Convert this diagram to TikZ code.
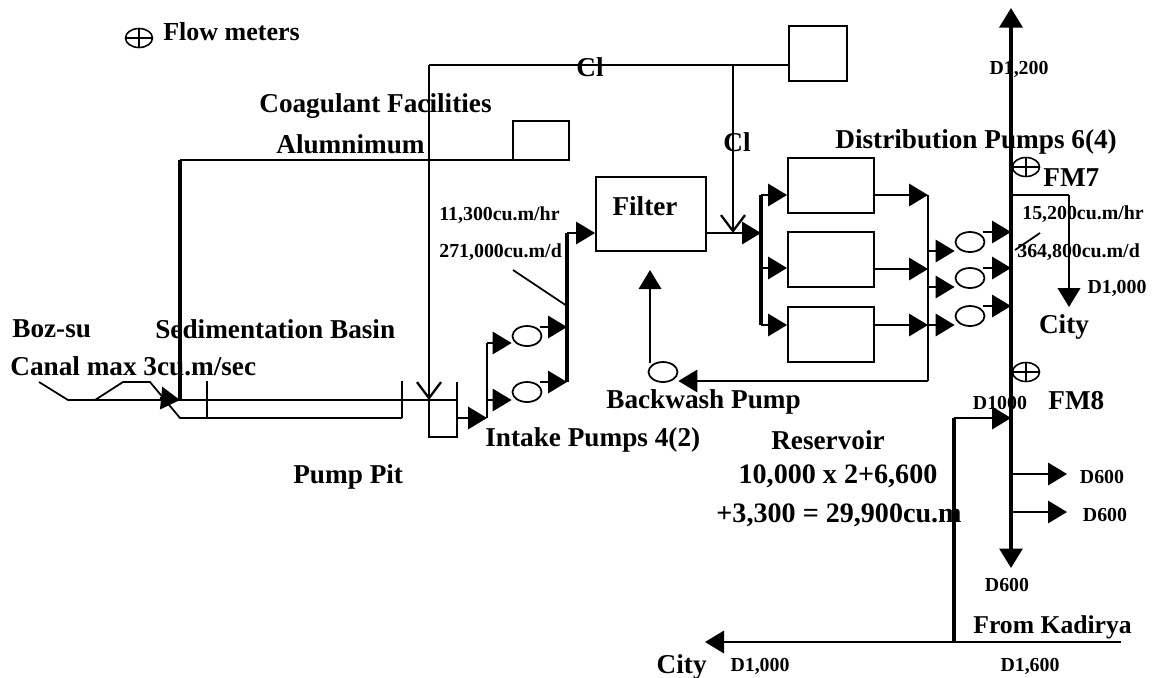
\documentclass[tikz,border=0pt]{standalone}
\usepackage{fontspec}
\setmainfont{Liberation Serif}
\usetikzlibrary{arrows.meta,calc,positioning,shapes.geometric}
\tikzset{
  pipe/.style={line width=1pt},
  main/.style={line width=1.9pt},
  flow/.style={pipe,-{Triangle[length=3.8mm,width=4.5mm]}},
  mainflow/.style={main,-{Triangle[length=3.9mm,width=4.6mm]}},
  dose/.style={line width=1.3pt,-{Straight Barb[length=3.2mm,width=4.8mm]}},
  basin/.style={draw,line width=1.1pt,inner sep=0pt,minimum width=1.72cm,minimum height=1.10cm},
  pumpo/.style={draw,ellipse,line width=1pt,inner sep=0pt,minimum width=.58cm,minimum height=.4cm},
  meter/.style={draw,ellipse,line width=.9pt,inner sep=0pt,minimum width=.54cm,minimum height=.38cm,
    path picture={\draw[line width=.9pt] (path picture bounding box.north)--(path picture bounding box.south)
      (path picture bounding box.west)--(path picture bounding box.east);}},
  big/.style={font=\fontsize{15.5}{18}\selectfont\bfseries,inner sep=0pt},
  small/.style={font=\fontsize{11.3}{14}\selectfont\bfseries,inner sep=0pt}
}
\begin{document}
\begin{tikzpicture}[x=.02cm,y=-.02cm]
\useasboundingbox (0,0) rectangle (1153,677);
% boxes
\node[basin,minimum width=1.16cm] (clbox) at (818,53.5){};
\node[basin,minimum width=1.12cm,minimum height=.78cm] (albox) at (541,140.5){};
\node[basin,minimum width=2.2cm,minimum height=1.48cm] (filter) at (651,214){};
\foreach \nm/\y in {tanka/185.5,tankb/259.5,tankc/334.5}{\node[basin] (\nm) at (831,\y){};}
% pumps and meters
\foreach \nm/\x/\y in {ipa/527/336,ipb/527/392,bwp/663/372,dpa/970/242,dpb/970/278,dpc/970/316}{\node[pumpo] (\nm) at (\x,\y){};}
\foreach \nm/\x/\y in {fmkey/139/38,fmseven/1026/167,fmeight/1026/372}{\node[meter] (\nm) at (\x,\y){};}
% junctions
\foreach \nm/\x/\y in {riva/39/382,rivb/68/400,humpa/95/400,humpb/123/382,humpc/150/382,sedin/180/400,sedlow/180/418,
  sedl/207/418,sedlt/207/381,sedr/402/418,sedrt/402/381,pita/429/400,pitb/429/437,pitc/457/437,pitd/457/382,
  pito/457/418,ihdr/487/418,ihdra/487/343,ihdrb/487/400,ohdr/567/233,ohdrb/567/382,iouta/540/327,ioutb/540/382,
  tick/513/270,tickb/567/306,alum/180/160,clt/429/65,clu/733/65,clv/733/233,fhdr/761/233,fhdra/761/195,fhdrb/761/268,fhdrc/761/325,
  rhdr/928/195,rhdrb/928/269,rhdrc/928/325,rhdrd/928/381,pina/928/251,pinb/928/287,douta/983/232,doutb/983/268,doutc/983/306,
  mtop/1011/8,mbot/1011/568,bwtip/650/270,bwfoot/650/363,brna/1011/195,brnb/1069/195,brnc/1069/307,
  ticka/1015/250,tickc/1040/233,kadin/954/418,kadbot/954/642,kadr/1121/642,kadl/705/642,mfeed/1011/418,
  sixa/1011/474,sixb/1011/512,sixatip/1067/474,sixbtip/1067/512,wra/160/398}{\coordinate (\nm) at (\x,\y);}
% canal and basin
\draw[pipe] (riva)--(rivb)--(pita)--(pita-|pitd);
\draw[pipe] (humpa)--(humpb)--(humpc)--(sedlow)--(sedr);
\draw[line width=1.4pt] (sedlt)--(sedl) (sedrt)--(sedr);
\draw[line width=1.2pt] (pitd)--(pitc)--(pitb)--(pita);
\draw[flow] (wra)--(sedin);
\draw[main] (alum)--(sedin);
\draw[pipe] (albox.west|-alum)--(alum);
\draw[pipe] (clu)--(clt);
\draw[dose] (clt)--(pita);
\draw[pipe] (clbox.west|-clt)--(clu);
\draw[dose] (clu)--(clv);
% intake side
\draw[flow] (pito)--(ihdr);
\draw[pipe] (ihdr)--(ihdra);
\draw[flow] (ihdra)--(ihdra-|ipa.west);
\draw[flow] (ihdrb)--(ihdrb-|ipb.west);
\draw[flow] (iouta)--(iouta-|ohdr);
\draw[flow] (ioutb)--(ohdrb);
\draw[main] (ohdrb)--(ohdr);
\draw[flow] (ohdr)--(ohdr-|filter.west);
\draw[pipe] (tick)--(tickb);
% filter to distribution
\draw[flow] (filter.east|-fhdr)--(fhdr);
\draw[main] (fhdra)--(fhdrc);
\foreach \src/\tk in {fhdra/tanka,fhdrb/tankb,fhdrc/tankc}{\draw[flow] (\src)--(\src-|\tk.west);}
\foreach \src/\tk in {rhdr/tanka,rhdrb/tankb,rhdrc/tankc}{\draw[flow] (\src-|\tk.east)--(\src);}
\draw[line width=1.2pt] (rhdr)--(rhdrd);
\draw[flow] (rhdrd)--(rhdrd-|bwp.east);
\draw[flow] (bwfoot)--(bwtip);
\foreach \src/\pu in {pina/dpa,pinb/dpb,rhdrc/dpc}{\draw[flow] (\src)--(\src-|\pu.west);}
\foreach \src in {douta,doutb,doutc}{\draw[flow] (\src)--(\src-|mtop);}
% mains
\draw[mainflow] (mfeed)--(mtop);
\draw[mainflow] (mfeed)--(mbot);
\draw[pipe] (brna)--(brnb);
\draw[flow,line width=1.4pt] (brnb)--(brnc);
\draw[pipe] (ticka)--(tickc);
\draw[main] (kadbot)--(kadin);
\draw[flow,line width=1.2pt] (kadin)--(mfeed);
\draw[flow] (kadr)--(kadl);
\draw[flow] (sixa)--(sixatip);
\draw[flow] (sixb)--(sixbtip);
% labels
\node[big,anchor=west,font=\fontsize{14.8}{16}\selectfont\bfseries] (lkey) at (163,32){Flow meters};
\node[big,anchor=west] (lcoag) at (259,106){Coagulant Facilities};
\node[big,anchor=west] (lalum) at (276,144){Alumnimum};
\node[big] (lcla) at (590,67){Cl};
\node[big] (lclb) at (737,142){Cl};
\node[big,anchor=west] (ldist) at (835,142){Distribution Pumps 6(4)};
\node[big,anchor=west] (lfmseven) at (1043,178){FM7};
\node[big,anchor=west] (lfmeight) at (1048,401){FM8};
\node[big] (lfilter) at (645,206){Filter};
\node[big,anchor=west] (lboz) at (12,329){Boz-su};
\node[big,anchor=west] (lsed) at (155,329){Sedimentation Basin};
\node[big,anchor=west] (lcanal) at (10,366){Canal max 3cu.m/sec};
\node[big,anchor=west] (lpit) at (293,477){Pump Pit};
\node[big,anchor=west] (lintake) at (485,440){Intake Pumps 4(2)};
\node[big,anchor=west] (lback) at (606,402){Backwash Pump};
\node[big] (lres) at (828,440){Reservoir};
\node[big,font=\fontsize{16}{18}\selectfont\bfseries] (lresa) at (838,476){10,000 x 2+6,600};
\node[big,anchor=east,font=\fontsize{16}{18}\selectfont\bfseries] (lresb) at (962,515){+3,300 = 29,900cu.m};
\node[big] (lcitya) at (1064,327){City};
\node[big,anchor=east] (lcityb) at (707,667){City};
\node[big,anchor=west,font=\fontsize{14.6}{16}\selectfont\bfseries] (lkad) at (973,627){From Kadirya};
\node[small,anchor=west] (lqa) at (439,215){11,300cu.m/hr};
\node[small,anchor=west] (lqb) at (439,252){271,000cu.m/d};
\node[small,anchor=west] (lqc) at (1022,214){15,200cu.m/hr};
\node[small,anchor=west] (lqd) at (1017,252){364,800cu.m/d};
\foreach \nm/\x/\y/\txt in {ldk/1019/69/{D1,200},lde/1117/288/{D1,000},ldf/1000/403/{D1000},ldg/1102/477/D600,ldh/1105/515/D600,ldi/1007/585/D600,ldj/760/666/{D1,000},ldl/1030/666/{D1,600}}{\node[small] (\nm) at (\x,\y){\txt};}
\end{tikzpicture}
\end{document}
